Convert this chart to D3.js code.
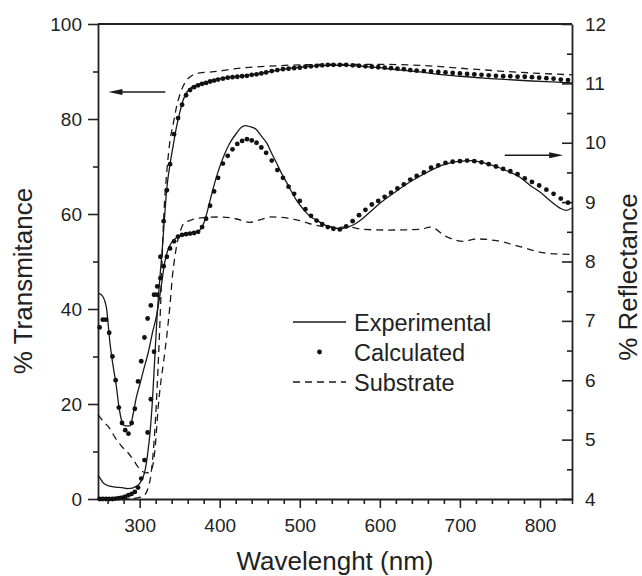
<!DOCTYPE html>
<html>
<head>
<meta charset="utf-8">
<script src="https://cdn.jsdelivr.net/npm/d3@7"></script>
<style>
  body { margin: 0; background: #fff; }
  text { font-family: "Liberation Sans", Arial, sans-serif; fill: #222; }
</style>
</head>
<body>
<svg id="chart" width="642" height="576"></svg>
<script>
// ---- data ----
// transmittance (left axis, %), experimental film
var tExp = [[248,5.0],[251,4.3],[254,3.5],[258,3.0],[263,2.7],[270,2.5],[278,2.4],[285,2.2],[291,2.3],[295,2.6],
  [298,2.9],[301,3.5],[304,4.5],[307,6.2],[310,9.5],[313,14],[316,20.8],[319,30],[322,39],[325,46],[328,52],
  [331,59],[334,65.5],[338,70.5],[342,74.5],[346,78.3],[350,81.3],[354,83.8],[358,85.4],[364,86.6],[372,87.2],
  [380,87.6],[390,88.1],[400,88.5],[420,88.9],[440,89.3],[460,89.9],[480,90.5],[500,90.9],[520,91.2],[540,91.3],
  [560,91.3],[580,91.1],[600,90.8],[620,90.4],[650,89.9],[680,89.3],[700,89.0],[730,88.6],[760,88.3],[790,88.0],
  [815,87.8],[840,87.6]];

// transmittance of the bare substrate
var tSub = [[248,0],[280,0],[295,0.2],[302,0.4],[306,0.8],[310,2],[314,5],[318,12],[322,24],[326,40],[330,59],
  [334,69],[338,75.5],[342,79],[346,82.5],[350,85],[354,86.8],[358,88],[364,89],[370,89.5],[380,89.8],[390,89.9],
  [400,90.1],[420,90.6],[440,90.9],[470,91.2],[500,91.4],[550,91.5],[600,91.5],[650,91.3],[700,90.7],[750,90.1],
  [800,89.6],[840,89.3]];

// reflectance (right axis, %), experimental film
var rExp = [[248,7.46],[251,7.45],[254,7.41],[257,7.31],[259,7.18],[261,6.90],[263,6.62],[267,6.23],[271,5.89],
  [274,5.57],[278,5.30],[282,5.23],[288,5.23],[292,5.44],[296,5.72],[300,5.92],[305,6.18],[311,6.48],[316,6.80],
  [321,7.08],[325,7.40],[328,7.68],[331,7.96],[335,8.18],[340,8.32],[346,8.40],[352,8.44],[360,8.46],[370,8.49],
  [376,8.54],[382,8.72],[388,9.03],[396,9.43],[404,9.74],[412,9.98],[421,10.16],[427,10.26],[432,10.29],
  [438,10.27],[446,10.22],[452,10.11],[459,9.99],[465,9.82],[471,9.66],[477,9.49],[484,9.32],[490,9.17],
  [496,9.03],[502,8.92],[509,8.81],[515,8.74],[521,8.70],[530,8.62],[540,8.58],[550,8.55],[560,8.58],[570,8.64],
  [580,8.74],[590,8.86],[600,8.98],[620,9.18],[640,9.36],[660,9.51],[680,9.63],[700,9.69],[715,9.70],[730,9.66],
  [745,9.60],[760,9.52],[775,9.42],[790,9.26],[800,9.17],[812,9.03],[825,8.90],[833,8.86],[840,8.90]];

// reflectance of the bare substrate
var rSub = [[248,5.42],[255,5.30],[262,5.20],[270,5.02],[278,4.88],[286,4.77],[293,4.64],[298,4.54],[303,4.47],
  [308,4.44],[313,4.46],[317,4.60],[320,4.96],[323,5.52],[326,5.92],[330,6.32],[334,6.76],[338,7.28],[341,7.76],
  [344,8.08],[347,8.32],[351,8.52],[355,8.64],[365,8.70],[380,8.74],[400,8.75],[420,8.72],[437,8.66],[450,8.70],
  [465,8.75],[485,8.73],[500,8.69],[520,8.61],[540,8.58],[560,8.58],[580,8.54],[610,8.53],[650,8.54],[663,8.58],
  [683,8.42],[704,8.34],[721,8.38],[746,8.35],[775,8.25],[808,8.14],[840,8.12]];

// calculated points (dots)
var calcWl = [250,254,258,262,266,270,274,278,282,286,290,294,298,302,306,310,314,318,322,326,330,334,338,343,
  348,353,358,363,368,373,378,383,388,393,398,404,410,416,422,428,434,440,446,452,458,465,472,479,486,493,500,
  507,514,521,528,535,542,550,558,566,574,582,590,598,606,614,622,630,638,646,655,664,673,682,691,700,709,718,
  727,736,745,754,763,772,781,790,799,808,817,826,835];
var calcT = [0,0,0,0,0,0.1,0.2,0.3,0.5,0.8,1.1,1.5,2.4,4.3,8.2,14,21,31,43,51,58.5,65,70.5,76.8,
  80.2,83,85,86.1,86.7,87.1,87.4,87.6,87.9,88.1,88.3,88.5,88.7,88.8,88.9,89.0,89.1,89.3,89.4,89.6,89.8,90.1,90.3,
  90.5,90.6,90.7,90.8,91.0,91.1,91.2,91.3,91.4,91.4,91.4,91.4,91.3,91.2,91.1,91.0,90.9,90.8,90.7,90.6,90.5,90.3,
  90.2,90.1,90.0,89.9,89.8,89.7,89.6,89.5,89.4,89.3,89.2,89.1,89.0,89.0,88.9,88.9,88.8,88.7,88.6,88.5,88.3,88.2];
var calcR = [6.89,7.02,7.02,6.80,6.40,6.00,5.54,5.28,5.16,5.10,5.28,5.52,5.98,6.32,6.72,7.04,7.26,7.44,7.58,7.72,
  7.92,8.08,8.22,8.34,8.42,8.45,8.46,8.47,8.48,8.50,8.58,8.72,8.94,9.18,9.41,9.65,9.78,9.89,9.98,10.03,10.06,
  10.04,10.00,9.92,9.83,9.70,9.54,9.41,9.26,9.14,9.02,8.88,8.77,8.69,8.63,8.58,8.55,8.54,8.59,8.68,8.78,8.87,
  8.96,9.02,9.09,9.16,9.23,9.30,9.38,9.44,9.50,9.58,9.62,9.66,9.68,9.69,9.70,9.69,9.67,9.64,9.60,9.56,9.52,
  9.47,9.40,9.34,9.28,9.21,9.14,9.06,8.99];

var xTicks = [300, 400, 500, 600, 700, 800];
var tTicks = [0, 20, 40, 60, 80, 100];
var rTicks = [4, 5, 6, 7, 8, 9, 10, 11, 12];
var legendItems = ["Experimental", "Calculated", "Substrate"];

// ---- layout ----
var svg = d3.select("#chart");
var plotL = 98, plotR = 572, plotT = 24, plotB = 499;

var x = d3.scaleLinear().domain([248, 840]).range([plotL, plotR]);
var yT = d3.scaleLinear().domain([0, 100]).range([plotB, plotT]);
var yR = d3.scaleLinear().domain([4, 12]).range([plotB, plotT]);

function styleAxis(g, size) {
    g.selectAll("text").style("font-size", size + "px").style("fill", "#222");
    g.selectAll("line").attr("stroke", "#222").attr("stroke-width", 1.6);
    g.select(".domain").attr("stroke", "#222").attr("stroke-width", 1.8);
}

// minor ticks first, then majors with labels
var minorX = d3.range(260, 841, 20).filter(function(v) { return v % 100 != 0; });
svg.append("g").attr("transform", "translate(0," + plotB + ")")
    .call(d3.axisBottom(x).tickValues(minorX).tickSize(5).tickFormat("").tickSizeOuter(0))
    .call(function(g) { styleAxis(g, 19); g.select(".domain").remove(); });
var gx = svg.append("g").attr("transform", "translate(0," + plotB + ")")
    .call(d3.axisBottom(x).tickValues(xTicks).tickSize(9).tickPadding(11).tickSizeOuter(0));
styleAxis(gx, 19);

svg.append("g").attr("transform", "translate(" + plotL + ",0)")
    .call(d3.axisLeft(yT).tickValues([10, 30, 50, 70, 90]).tickSize(5).tickFormat("").tickSizeOuter(0))
    .call(function(g) { styleAxis(g, 19); g.select(".domain").remove(); });
var gl = svg.append("g").attr("transform", "translate(" + plotL + ",0)")
    .call(d3.axisLeft(yT).tickValues(tTicks).tickSize(10).tickPadding(6).tickSizeOuter(0));
styleAxis(gl, 19);

svg.append("g").attr("transform", "translate(" + plotR + ",0)")
    .call(d3.axisRight(yR).tickValues(d3.range(4.5, 12, 1)).tickSize(-5).tickFormat("").tickSizeOuter(0))
    .call(function(g) { styleAxis(g, 19); g.select(".domain").remove(); });
var gr = svg.append("g").attr("transform", "translate(" + plotR + ",0)")
    .call(d3.axisRight(yR).tickValues(rTicks).tickSize(-10).tickPadding(13).tickSizeOuter(0));
styleAxis(gr, 19);

// top frame line
svg.append("line").attr("x1", plotL).attr("x2", plotR).attr("y1", plotT).attr("y2", plotT)
    .attr("stroke", "#222").attr("stroke-width", 1.8);

// ---- curves ----
var lineT = d3.line().x(function(d) { return x(d[0]); }).y(function(d) { return yT(d[1]); }).curve(d3.curveMonotoneX);
var lineR = d3.line().x(function(d) { return x(d[0]); }).y(function(d) { return yR(d[1]); }).curve(d3.curveMonotoneX);

var curves = svg.append("g").attr("fill", "none").attr("stroke", "#1a1a1a").attr("stroke-width", 1.3);
curves.append("path").attr("d", lineT(tSub)).attr("stroke-dasharray", "7,5");
curves.append("path").attr("d", lineR(rSub)).attr("stroke-dasharray", "7,5");
curves.append("path").attr("d", lineT(tExp));
curves.append("path").attr("d", lineR(rExp));

var dots = svg.append("g").attr("fill", "#111");
dots.selectAll("circle.t").data(calcWl).enter().append("circle")
    .attr("class", "t")
    .attr("cx", function(d) { return x(d); })
    .attr("cy", function(d, i) { return yT(calcT[i]); })
    .attr("r", 2.4);
dots.selectAll("circle.r").data(calcWl).enter().append("circle")
    .attr("class", "r")
    .attr("cx", function(d) { return x(d); })
    .attr("cy", function(d, i) { return yR(calcR[i]); })
    .attr("r", 2.4);

// ---- arrows telling which axis ----
function arrow(x1, x2, y) {
    var dir = x2 > x1 ? 1 : -1;
    svg.append("line").attr("x1", x1).attr("x2", x2 - dir * 10).attr("y1", y).attr("y2", y)
        .attr("stroke", "#1a1a1a").attr("stroke-width", 1.4);
    svg.append("path")
        .attr("d", "M" + x2 + "," + y + "L" + (x2 - dir * 14) + "," + (y - 3) + "L" + (x2 - dir * 14) + "," + (y + 3) + "Z")
        .attr("fill", "#1a1a1a");
}
arrow(x(332), x(261), yT(85.7));
arrow(x(756), x(829), yR(9.79));

// ---- legend ----
var lg = svg.append("g");
var lx0 = 293, lx1 = 346, ly = [322, 352, 382];
lg.append("line").attr("x1", lx0).attr("x2", lx1).attr("y1", ly[0]).attr("y2", ly[0])
    .attr("stroke", "#1a1a1a").attr("stroke-width", 1.3);
lg.append("circle").attr("cx", (lx0 + lx1) / 2).attr("cy", ly[1]).attr("r", 2.4).attr("fill", "#111");
lg.append("line").attr("x1", lx0).attr("x2", lx1).attr("y1", ly[2]).attr("y2", ly[2])
    .attr("stroke", "#1a1a1a").attr("stroke-width", 1.3).attr("stroke-dasharray", "7,5");
lg.selectAll("text").data(legendItems).enter().append("text")
    .attr("x", 354)
    .attr("y", function(d, i) { return ly[i] + 8.5; })
    .style("font-size", "23.5px")
    .text(function(d) { return d; });

// ---- axis titles ----
svg.append("text").attr("x", (plotL + plotR) / 2).attr("y", 570)
    .attr("text-anchor", "middle").style("font-size", "26px").text("Wavelenght (nm)");
svg.append("text").attr("transform", "translate(32,281) rotate(-90)")
    .attr("text-anchor", "middle").style("font-size", "26px").text("% Transmitance");
svg.append("text").attr("transform", "translate(637,277) rotate(-90)")
    .attr("text-anchor", "middle").style("font-size", "26px").text("% Reflectance");
</script>
</body>
</html>
